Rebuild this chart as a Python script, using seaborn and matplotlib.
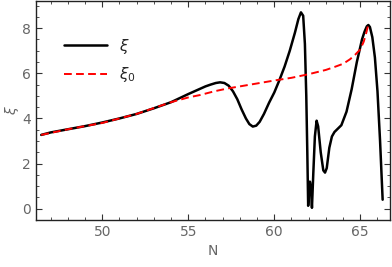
import matplotlib
matplotlib.use("Agg")
import matplotlib.pyplot as plt
import seaborn as sns
import pandas as pd
from matplotlib.ticker import MultipleLocator

# xi (solid black)
n_xi = [46.45, 47, 48, 49, 50, 51, 52, 53, 54, 54.5, 55, 55.5, 56, 56.3,
        56.6, 56.85, 57.1, 57.35, 57.6, 57.85, 58.1, 58.35, 58.55, 58.75,
        58.95, 59.15, 59.4, 59.7, 60, 60.3, 60.6, 60.9, 61.2, 61.4, 61.55,
        61.68, 61.78, 61.86, 61.92, 61.97, 62.02, 62.07, 62.12, 62.19, 62.27,
        62.36, 62.46, 62.55, 62.7, 62.85, 62.95, 63.05, 63.2, 63.35, 63.5,
        63.9, 64.2, 64.5, 64.8, 65.1, 65.25, 65.38, 65.47, 65.56, 65.7,
        65.85, 66.0, 66.15, 66.3]
xi = [3.27, 3.38, 3.52, 3.66, 3.82, 4.0, 4.2, 4.45, 4.72, 4.9, 5.08, 5.25,
      5.42, 5.5, 5.57, 5.6, 5.57, 5.45, 5.2, 4.85, 4.4, 4.0, 3.75, 3.64,
      3.68, 3.85, 4.2, 4.7, 5.15, 5.7, 6.3, 7.0, 7.8, 8.4, 8.7, 8.55, 7.3,
      5.0, 2.5, 0.13, 0.8, 1.2, 1.0, 0.04, 1.6, 3.2, 3.9, 3.65, 2.5, 1.7,
      1.6, 1.8, 2.7, 3.2, 3.4, 3.7, 4.3, 5.3, 6.5, 7.5, 7.85, 8.08, 8.14,
      8.05, 7.6, 6.7, 5.2, 3.0, 0.4]

# xi_0 (dashed red)
n_xi0 = [46.45, 48, 50, 52, 54, 55, 55.7, 56.5, 57.3, 58, 59, 60, 61, 62,
         63, 63.5, 64, 64.4, 64.7, 65, 65.2, 65.35, 65.47]
xi0 = [3.27, 3.52, 3.8, 4.2, 4.72, 4.93, 5.04, 5.2, 5.33, 5.42, 5.55, 5.68,
       5.8, 5.96, 6.15, 6.28, 6.42, 6.62, 6.82, 7.06, 7.4, 7.8, 8.17]

df_xi = pd.DataFrame({"N": n_xi, "xi": xi})
df_xi0 = pd.DataFrame({"N": n_xi0, "xi": xi0})

sns.set_style("ticks")
plt.rcParams["font.family"] = ["DejaVu Sans"]

fig = plt.figure(figsize=(3.92, 2.67), dpi=100)
ax = fig.add_axes([0.092, 0.176, 0.903, 0.82])

sns.lineplot(data=df_xi, x="N", y="xi", ax=ax, color="black", lw=1.8,
             sort=False, label=r"$\xi$")
sns.lineplot(data=df_xi0, x="N", y="xi", ax=ax, color="red", lw=1.4,
             linestyle=(0, (4, 2.2)), sort=False, label=r"$\xi_0$")

ax.set_xlim(46.15, 66.73)
ax.set_ylim(-0.5, 9.2)
ax.xaxis.set_major_locator(MultipleLocator(5))
ax.xaxis.set_minor_locator(MultipleLocator(1))
ax.yaxis.set_major_locator(MultipleLocator(2))
ax.yaxis.set_minor_locator(MultipleLocator(0.5))
ax.tick_params(which="both", direction="in", top=True, right=True,
               colors="#333333", labelcolor="#666666", labelsize=10)
ax.tick_params(which="major", length=4, width=0.8)
ax.tick_params(which="minor", length=2.5, width=0.6)
for s in ax.spines.values():
    s.set_linewidth(1.0)
    s.set_color("#222222")

ax.set_xlabel("N", color="#666666", fontsize=10, labelpad=4)
ax.set_ylabel(r"$\xi$", color="#666666", fontsize=10, labelpad=1)

ax.legend(loc="upper left", bbox_to_anchor=(0.04, 0.9), frameon=False,
          handlelength=2.8, fontsize=11, labelspacing=0.6)

fig.savefig("out.png", dpi=100)
